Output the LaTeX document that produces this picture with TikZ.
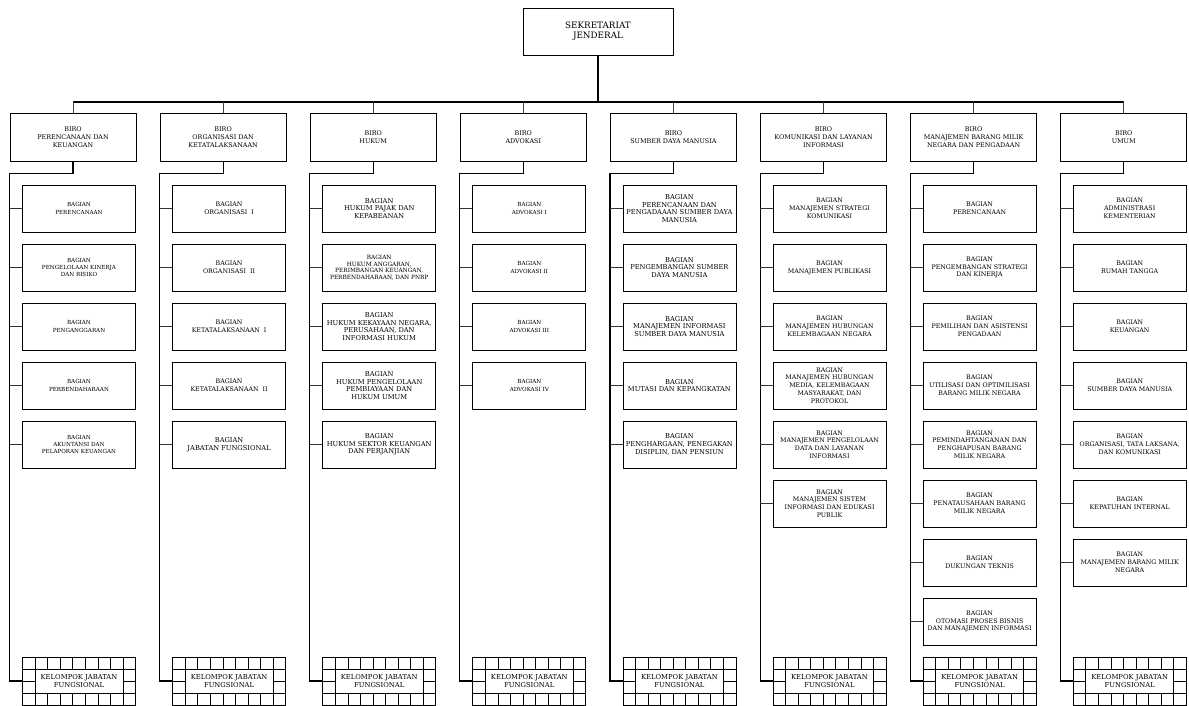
\documentclass[tikz,border=0pt]{standalone}
\usepackage{fontspec}
\setmainfont{DejaVu Serif}
\usetikzlibrary{positioning}
\tikzset{
    base/.style = {
        draw=black, line width=0.8pt, align=center, inner sep=1pt
    },
    % Boxes
    sekjen/.style   = {base, minimum width=150pt, minimum height=47pt, font=\fontsize{8.8}{10}\selectfont},
    biro/.style     = {base, minimum width=126pt, minimum height=48pt, font=\fontsize{6.4}{8.3}\selectfont},
    bagian/.style   = {base, minimum width=113pt, minimum height=47pt, font=\fontsize{6.3}{7.8}\selectfont},
    bagiansm/.style = {bagian, font=\fontsize{5.6}{7.4}\selectfont},
    bagianxs/.style = {bagian, font=\fontsize{5.8}{6.5}\selectfont},
    bagianlg/.style = {bagian, font=\fontsize{6.7}{7.7}\selectfont},
    kelompok/.style = {base, minimum width=113pt, minimum height=48pt, font=\fontsize{6.8}{8.4}\selectfont,
        path picture={
            \foreach \k in {1,...,8}
                \draw [line width=0.6pt]
                    ([xshift=\k*12.5556pt]path picture bounding box.south west) -- ++(0,12pt)
                    ([xshift=\k*12.5556pt]path picture bounding box.north west) -- ++(0,-12pt);
            \draw [line width=0.6pt]
                ([yshift=12pt]path picture bounding box.south west) -- ([yshift=12pt]path picture bounding box.south east)
                ([yshift=-12pt]path picture bounding box.north west) -- ([yshift=-12pt]path picture bounding box.north east)
                (path picture bounding box.west) -- ++(12.5556pt,0)
                (path picture bounding box.east) -- ++(-12.5556pt,0)
                ([xshift=12.5556pt]path picture bounding box.south west) -- ([xshift=12.5556pt]path picture bounding box.north west)
                ([xshift=-12.5556pt]path picture bounding box.south east) -- ([xshift=-12.5556pt]path picture bounding box.north east);
        }},
    % Connectors
    bus/.style   = {line width=1.2pt},
    drop/.style  = {line width=0.6pt, black!75},
    trunk/.style = {line width=1.1pt},
    stub/.style  = {line width=0.6pt, black!80}
}
\begin{document}
\begin{tikzpicture}[node distance=11.2pt and 23.3pt]
    \useasboundingbox (0,0) rectangle (1189pt,-706pt);

    % Top
    \node (sek) [sekjen] at (598pt,-31.5pt) {SEKRETARIAT\\JENDERAL};

    % Biro row
    \node (bPK) [biro] at (73pt,-137pt) {BIRO\\PERENCANAAN DAN\\KEUANGAN};
    \node (bOK) [biro, right=of bPK] {BIRO\\ORGANISASI DAN\\KETATALAKSANAAN};
    \node (bHK) [biro, right=of bOK] {BIRO\\HUKUM};
    \node (bAD) [biro, right=of bHK] {BIRO\\ADVOKASI};
    \node (bSDM) [biro, right=of bAD] {BIRO\\SUMBER DAYA MANUSIA};
    \node (bKLI) [biro, right=of bSDM] {BIRO\\KOMUNIKASI DAN LAYANAN\\INFORMASI};
    \node (bBMN) [biro, right=of bKLI] {BIRO\\MANAJEMEN BARANG MILIK\\NEGARA DAN PENGADAAN};
    \node (bUM) [biro, right=of bBMN] {BIRO\\UMUM};

    % Biro Perencanaan dan Keuangan
    \node (pk1) [bagiansm, below=23.2pt of bPK, xshift=6pt] {BAGIAN\\PERENCANAAN};
    \node (pk2) [bagiansm, below=of pk1] {BAGIAN\\PENGELOLAAN KINERJA\\DAN RISIKO};
    \node (pk3) [bagiansm, below=of pk2] {BAGIAN\\PENGANGGARAN};
    \node (pk4) [bagiansm, below=of pk3] {BAGIAN\\PERBENDAHARAAN};
    \node (pk5) [bagiansm, below=of pk4] {BAGIAN\\AKUNTANSI DAN\\PELAPORAN KEUANGAN};

    % Biro Organisasi dan Ketatalaksanaan
    \node (ok1) [bagian, below=23.2pt of bOK, xshift=6pt] {BAGIAN\\ORGANISASI~~I};
    \node (ok2) [bagian, below=of ok1] {BAGIAN\\ORGANISASI~~II};
    \node (ok3) [bagian, below=of ok2] {BAGIAN\\KETATALAKSANAAN~~I};
    \node (ok4) [bagian, below=of ok3] {BAGIAN\\KETATALAKSANAAN~~II};
    \node (ok5) [bagianlg, below=of ok4] {BAGIAN\\JABATAN FUNGSIONAL};

    % Biro Hukum
    \node (hk1) [bagianlg, below=23.2pt of bHK, xshift=6pt] {BAGIAN\\HUKUM PAJAK DAN\\KEPABEANAN};
    \node (hk2) [bagianxs, below=of hk1] {BAGIAN\\HUKUM ANGGARAN,\\PERIMBANGAN KEUANGAN,\\PERBENDAHARAAN, DAN PNBP};
    \node (hk3) [bagianlg, below=of hk2] {BAGIAN\\HUKUM KEKAYAAN NEGARA,\\PERUSAHAAN, DAN\\INFORMASI HUKUM};
    \node (hk4) [bagianlg, below=of hk3] {BAGIAN\\HUKUM PENGELOLAAN\\PEMBIAYAAN DAN\\HUKUM UMUM};
    \node (hk5) [bagianlg, below=of hk4] {BAGIAN\\HUKUM SEKTOR KEUANGAN\\DAN PERJANJIAN};

    % Biro Advokasi
    \node (ad1) [bagiansm, below=23.2pt of bAD, xshift=6pt] {BAGIAN\\ADVOKASI I};
    \node (ad2) [bagiansm, below=of ad1] {BAGIAN\\ADVOKASI II};
    \node (ad3) [bagiansm, below=of ad2] {BAGIAN\\ADVOKASI III};
    \node (ad4) [bagiansm, below=of ad3] {BAGIAN\\ADVOKASI IV};

    % Biro Sumber Daya Manusia
    \node (sdm1) [bagianlg, below=23.2pt of bSDM, xshift=6pt] {BAGIAN\\PERENCANAAN DAN\\PENGADAAAN SUMBER DAYA\\MANUSIA};
    \node (sdm2) [bagianlg, below=of sdm1] {BAGIAN\\PENGEMBANGAN SUMBER\\DAYA MANUSIA};
    \node (sdm3) [bagianlg, below=of sdm2] {BAGIAN\\MANAJEMEN INFORMASI\\SUMBER DAYA MANUSIA};
    \node (sdm4) [bagianlg, below=of sdm3] {BAGIAN\\MUTASI DAN KEPANGKATAN};
    \node (sdm5) [bagianlg, below=of sdm4] {BAGIAN\\PENGHARGAAN, PENEGAKAN\\DISIPLIN, DAN PENSIUN};

    % Biro Komunikasi dan Layanan Informasi
    \node (kli1) [bagian, below=23.2pt of bKLI, xshift=6pt] {BAGIAN\\MANAJEMEN STRATEGI\\KOMUNIKASI};
    \node (kli2) [bagian, below=of kli1] {BAGIAN\\MANAJEMEN PUBLIKASI};
    \node (kli3) [bagian, below=of kli2] {BAGIAN\\MANAJEMEN HUBUNGAN\\KELEMBAGAAN NEGARA};
    \node (kli4) [bagian, below=of kli3] {BAGIAN\\MANAJEMEN HUBUNGAN\\MEDIA, KELEMBAGAAN\\MASYARAKAT, DAN\\PROTOKOL};
    \node (kli5) [bagian, below=of kli4] {BAGIAN\\MANAJEMEN PENGELOLAAN\\DATA DAN LAYANAN\\INFORMASI};
    \node (kli6) [bagian, below=of kli5] {BAGIAN\\MANAJEMEN SISTEM\\INFORMASI DAN EDUKASI\\PUBLIK};

    % Biro Manajemen BMN dan Pengadaan
    \node (bmn1) [bagian, below=23.2pt of bBMN, xshift=6pt] {BAGIAN\\PERENCANAAN};
    \node (bmn2) [bagian, below=of bmn1] {BAGIAN\\PENGEMBANGAN STRATEGI\\DAN KINERJA};
    \node (bmn3) [bagian, below=of bmn2] {BAGIAN\\PEMILIHAN DAN ASISTENSI\\PENGADAAN};
    \node (bmn4) [bagian, below=of bmn3] {BAGIAN\\UTILISASI DAN OPTIMILISASI\\BARANG MILIK NEGARA};
    \node (bmn5) [bagian, below=of bmn4] {BAGIAN\\PEMINDAHTANGANAN DAN\\PENGHAPUSAN BARANG\\MILIK NEGARA};
    \node (bmn6) [bagian, below=of bmn5] {BAGIAN\\PENATAUSAHAAN BARANG\\MILIK NEGARA};
    \node (bmn7) [bagian, below=of bmn6] {BAGIAN\\DUKUNGAN TEKNIS};
    \node (bmn8) [bagian, below=of bmn7] {BAGIAN\\OTOMASI PROSES BISNIS\\DAN MANAJEMEN INFORMASI};

    % Biro Umum
    \node (um1) [bagian, below=23.2pt of bUM, xshift=6pt] {BAGIAN\\ADMINISTRASI\\KEMENTERIAN};
    \node (um2) [bagian, below=of um1] {BAGIAN\\RUMAH TANGGA};
    \node (um3) [bagian, below=of um2] {BAGIAN\\KEUANGAN};
    \node (um4) [bagian, below=of um3] {BAGIAN\\SUMBER DAYA MANUSIA};
    \node (um5) [bagian, below=of um4] {BAGIAN\\ORGANISASI, TATA LAKSANA,\\DAN KOMUNIKASI};
    \node (um6) [bagian, below=of um5] {BAGIAN\\KEPATUHAN INTERNAL};
    \node (um7) [bagian, below=of um6] {BAGIAN\\MANAJEMEN BARANG MILIK\\NEGARA};

    % Kelompok jabatan fungsional along the bottom
    \node (kPK) [kelompok, below=495.2pt of bPK, xshift=6pt] {KELOMPOK JABATAN\\FUNGSIONAL};
    \node (kOK) [kelompok, below=495.2pt of bOK, xshift=6pt] {KELOMPOK JABATAN\\FUNGSIONAL};
    \node (kHK) [kelompok, below=495.2pt of bHK, xshift=6pt] {KELOMPOK JABATAN\\FUNGSIONAL};
    \node (kAD) [kelompok, below=495.2pt of bAD, xshift=6pt] {KELOMPOK JABATAN\\FUNGSIONAL};
    \node (kSDM) [kelompok, below=495.2pt of bSDM, xshift=6pt] {KELOMPOK JABATAN\\FUNGSIONAL};
    \node (kKLI) [kelompok, below=495.2pt of bKLI, xshift=6pt] {KELOMPOK JABATAN\\FUNGSIONAL};
    \node (kBMN) [kelompok, below=495.2pt of bBMN, xshift=6pt] {KELOMPOK JABATAN\\FUNGSIONAL};
    \node (kUM) [kelompok, below=495.2pt of bUM, xshift=6pt] {KELOMPOK JABATAN\\FUNGSIONAL};

    % Sekretariat to the biro row
    \coordinate (bus) at (0,-102pt);
    \draw [bus] (sek.south) -- (sek.south |- bus);
    \draw [bus] (bPK.north |- bus) -- (bUM.north |- bus);
    \draw [drop] (bPK.north |- bus) -- (bPK.north);
    \draw [drop] (bOK.north |- bus) -- (bOK.north);
    \draw [drop] (bHK.north |- bus) -- (bHK.north);
    \draw [drop] (bAD.north |- bus) -- (bAD.north);
    \draw [drop] (bSDM.north |- bus) -- (bSDM.north);
    \draw [drop] (bKLI.north |- bus) -- (bKLI.north);
    \draw [drop] (bBMN.north |- bus) -- (bBMN.north);
    \draw [drop] (bUM.north |- bus) -- (bUM.north);

    % Trunks down each column
    \draw [trunk] (bPK.south) -- ++(0,-12pt) -| (kPK.west -| bPK.west) -- (kPK.west);
    \draw [trunk] (bOK.south) -- ++(0,-12pt) -| (kOK.west -| bOK.west) -- (kOK.west);
    \draw [trunk] (bHK.south) -- ++(0,-12pt) -| (kHK.west -| bHK.west) -- (kHK.west);
    \draw [trunk] (bAD.south) -- ++(0,-12pt) -| (kAD.west -| bAD.west) -- (kAD.west);
    \draw [trunk] (bSDM.south) -- ++(0,-12pt) -| (kSDM.west -| bSDM.west) -- (kSDM.west);
    \draw [trunk] (bKLI.south) -- ++(0,-12pt) -| (kKLI.west -| bKLI.west) -- (kKLI.west);
    \draw [trunk] (bBMN.south) -- ++(0,-12pt) -| (kBMN.west -| bBMN.west) -- (kBMN.west);
    \draw [trunk] (bUM.south) -- ++(0,-12pt) -| (kUM.west -| bUM.west) -- (kUM.west);

    % Stubs from trunk to each bagian
    \draw [stub] (pk1.west) -- (pk1.west -| bPK.west) (pk2.west) -- (pk2.west -| bPK.west)
        (pk3.west) -- (pk3.west -| bPK.west) (pk4.west) -- (pk4.west -| bPK.west)
        (pk5.west) -- (pk5.west -| bPK.west);
    \draw [stub] (ok1.west) -- (ok1.west -| bOK.west) (ok2.west) -- (ok2.west -| bOK.west)
        (ok3.west) -- (ok3.west -| bOK.west) (ok4.west) -- (ok4.west -| bOK.west)
        (ok5.west) -- (ok5.west -| bOK.west);
    \draw [stub] (hk1.west) -- (hk1.west -| bHK.west) (hk2.west) -- (hk2.west -| bHK.west)
        (hk3.west) -- (hk3.west -| bHK.west) (hk4.west) -- (hk4.west -| bHK.west)
        (hk5.west) -- (hk5.west -| bHK.west);
    \draw [stub] (ad1.west) -- (ad1.west -| bAD.west) (ad2.west) -- (ad2.west -| bAD.west)
        (ad3.west) -- (ad3.west -| bAD.west) (ad4.west) -- (ad4.west -| bAD.west);
    \draw [stub] (sdm1.west) -- (sdm1.west -| bSDM.west) (sdm2.west) -- (sdm2.west -| bSDM.west)
        (sdm3.west) -- (sdm3.west -| bSDM.west) (sdm4.west) -- (sdm4.west -| bSDM.west)
        (sdm5.west) -- (sdm5.west -| bSDM.west);
    \draw [stub] (kli1.west) -- (kli1.west -| bKLI.west) (kli2.west) -- (kli2.west -| bKLI.west)
        (kli3.west) -- (kli3.west -| bKLI.west) (kli4.west) -- (kli4.west -| bKLI.west)
        (kli5.west) -- (kli5.west -| bKLI.west) (kli6.west) -- (kli6.west -| bKLI.west);
    \draw [stub] (bmn1.west) -- (bmn1.west -| bBMN.west) (bmn2.west) -- (bmn2.west -| bBMN.west)
        (bmn3.west) -- (bmn3.west -| bBMN.west) (bmn4.west) -- (bmn4.west -| bBMN.west)
        (bmn5.west) -- (bmn5.west -| bBMN.west) (bmn6.west) -- (bmn6.west -| bBMN.west)
        (bmn7.west) -- (bmn7.west -| bBMN.west) (bmn8.west) -- (bmn8.west -| bBMN.west);
    \draw [stub] (um1.west) -- (um1.west -| bUM.west) (um2.west) -- (um2.west -| bUM.west)
        (um3.west) -- (um3.west -| bUM.west) (um4.west) -- (um4.west -| bUM.west)
        (um5.west) -- (um5.west -| bUM.west) (um6.west) -- (um6.west -| bUM.west)
        (um7.west) -- (um7.west -| bUM.west);
\end{tikzpicture}
\end{document}
